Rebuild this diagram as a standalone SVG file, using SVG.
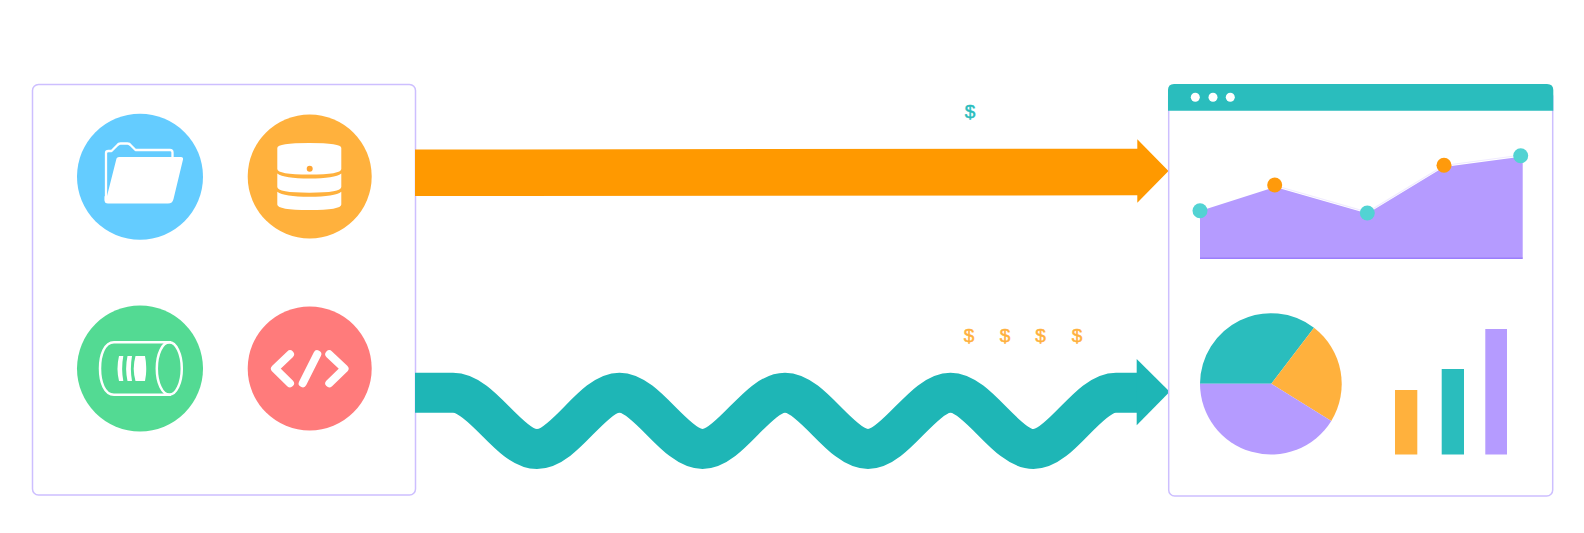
<svg xmlns="http://www.w3.org/2000/svg" width="1584" height="533" viewBox="0 0 1584 533">
<style>
.frame{fill:#fff;stroke:#cdbfff;stroke-width:1.500}
.w{fill:#fff}
.ws{fill:none;stroke:#fff;stroke-width:2.300;stroke-linejoin:round;stroke-linecap:round}
.code{fill:none;stroke:#fff;stroke-width:8;stroke-linejoin:round;stroke-linecap:round}
.d{font-family:"Liberation Sans",Arial,sans-serif;font-size:19px;text-anchor:middle;stroke-width:.5}
.t{fill:#2abdbd}.o{fill:#ffb13d}.p{fill:#b59bff}.tp{fill:#52d3d3}.op{fill:#ff9a0b}
.d.t{stroke:#2abdbd}.d.o{stroke:#ffb13d}
</style>
<rect width="1584" height="533" fill="#fff"/>
<g id="sources">
<rect class="frame" x="32.500" y="84.500" width="383" height="410.500" rx="6"/>
</g>
<g id="node-files">
<circle cx="140" cy="176.700" r="63" fill="#64ccff"/>
<path class="ws" d="M106 201V153Q106 151 108.500 151H111.500L117 145.500Q118.500 143.500 120.500 143.500H127.500Q129.500 143.500 131 145.500L135.500 150H170Q172.500 150 172.500 152.500V158"/>
<path class="w" d="M116.500 158.500Q117 157 119 157H181Q183.500 157 183 159.500L173.500 199Q172.500 203.500 168 203.500H108Q104.500 203.500 104.500 200V196L106.500 198Z"/>
</g>
<g id="node-database">
<circle cx="309.700" cy="176.500" r="62" fill="#ffb13d"/>
<path class="w" d="M277.300 148Q277.300 143 309.300 143Q341.300 143 341.300 148V169Q341.300 174.500 309.300 174.500Q277.300 174.500 277.300 169Z"/>
<path class="w" d="M277.300 173.500Q284 178.500 309.300 178.500Q335 178.500 341.300 173.500V187Q341.300 192.700 309.300 192.700Q277.300 192.700 277.300 187Z"/>
<path class="w" d="M277.300 191.700Q284 196.700 309.300 196.700Q335 196.700 341.300 191.700V204.500Q341.300 210 309.300 210Q277.300 210 277.300 204.500Z"/>
<circle cx="309.700" cy="168.700" r="3" fill="#ffa533"/>
</g>
<g id="node-stream">
<circle cx="140" cy="368.500" r="63" fill="#53da93"/>
<path fill="none" stroke="#fff" stroke-width="2.500" d="M171 342.300H114C104.500 342.300 100 355 100 368.500C100 382 104.500 394.700 114 394.700H171"/>
<ellipse cx="169.300" cy="368.500" rx="12.500" ry="26.200" fill="none" stroke="#fff" stroke-width="2.500"/>
<path class="w" d="M119 356H123.300Q121 368.500 123.300 381H119Q116 368.500 119 356Z"/>
<path class="w" d="M127.500 356H132Q129.800 368.500 132 381H127.500Q124.800 368.500 127.500 356Z"/>
<path class="w" d="M135.500 356H145Q147.500 368.500 145 381H135.500Q132 368.500 135.500 356Z"/>
</g>
<g id="node-code">
<circle cx="309.700" cy="368.500" r="62" fill="#ff7b7b"/>
<path class="code" d="M290 354.300L275 368.700L290 383.300M317.300 354.300L302.700 383.300M329.300 354.300L344.500 368.700L329.300 383.300"/>
</g>
<g id="connectors">
<path fill="#ff9900" d="M415 149.500L1137.300 148.700V139.300L1168.500 171L1137.300 202.700V195.300L415 196Z"/>
<path fill="none" stroke="#1eb6b6" stroke-width="40" d="M415 392.700H453C482 392.700 509 449 537 449S592 392.700 619.500 392.700S675 449 702.500 449S757.500 392.700 785 392.700S840.500 449 868 449S923 392.700 950.500 392.700S1006 449 1033.500 449S1088 392.700 1116 392.700H1138"/>
<path fill="#1eb6b6" d="M1136.700 359L1169.700 391.700L1136.700 425.300Z"/>
</g>
<g id="labels">
<text class="d t" x="970" y="118">$</text>
<text class="d o" x="969" y="342">$</text>
<text class="d o" x="1005" y="342">$</text>
<text class="d o" x="1040.500" y="342">$</text>
<text class="d o" x="1077" y="342">$</text>
</g>
<g id="dashboard">
<rect class="frame" x="1168.700" y="90" width="384" height="406" rx="6"/>
<path class="t" d="M1168 110.700V90Q1168 84 1174 84H1547Q1553.300 84 1553.300 90V110.700Z"/>
<g class="w"><circle cx="1195.300" cy="97.300" r="4.500"/><circle cx="1213" cy="97.300" r="4.500"/><circle cx="1230.300" cy="97.300" r="4.500"/></g>
<polyline points="1275,185.500 1367.500,212 1444,165.500 1522,155" fill="none" stroke="#f0ebff" stroke-width="1.200"/>
<path class="p" d="M1200 211L1275 187L1367.500 213.500L1444 167L1522.700 156.500V258.300H1200Z"/>
<rect x="1200" y="257.500" width="322.700" height="1.500" fill="#9b7ffc"/>
<circle class="tp" cx="1200" cy="210.700" r="7.500"/>
<circle class="op" cx="1274.700" cy="185" r="7.500"/>
<circle class="tp" cx="1367.300" cy="213" r="7.500"/>
<circle class="op" cx="1444" cy="165.300" r="7.500"/>
<circle class="tp" cx="1520.700" cy="155.700" r="7.500"/>
<path class="t" d="M1271.300 383.700H1200A71 71 0 0 1 1314 327.700Z"/>
<path class="o" d="M1271.300 383.700L1314 327.700A71 71 0 0 1 1331.300 421Z"/>
<path class="p" d="M1271.300 383.700L1331.300 421A71 71 0 0 1 1200 383.700Z"/>
<rect class="o" x="1395" y="390" width="22.300" height="64.500"/>
<rect class="t" x="1441.700" y="369" width="22.300" height="85.500"/>
<rect class="p" x="1485.300" y="329" width="21.700" height="125.500"/>
</g>
</svg>
